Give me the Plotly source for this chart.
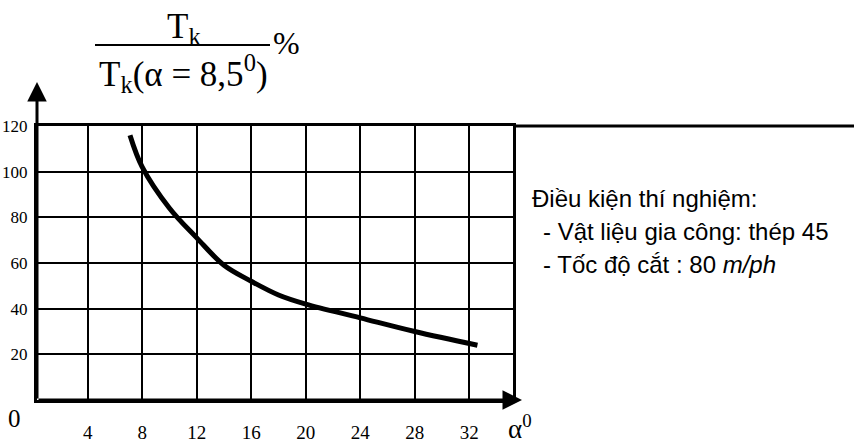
import plotly.graph_objects as go

# ---- data ----
alpha = [7.1, 8, 10, 12, 14, 16, 18, 20, 24, 28, 32.6]
tk_ratio = [116, 102, 84, 71, 59, 52, 46, 42, 36, 30, 24]
x_ticks = [4, 8, 12, 16, 20, 24, 28, 32]
y_ticks = [20, 40, 60, 80, 100, 120]
notes = ["Điều kiện thí nghiệm:",
         "- Vật liệu gia công: thép 45",
         "- Tốc độ cắt : 80 <i>m/ph</i>"]

# ---- layout geometry (pixels) ----
Wfig, Hfig = 854, 443
L, R, T, B = 37, 513, 126, 400
PW, PH = R - L, B - T


def px(x):
    return (x - L) / PW


def py(y):
    return (B - y) / PH


SERIF = "Liberation Serif, Times New Roman, serif"
SANS = "Liberation Sans, Arial, sans-serif"

fig = go.Figure()
fig.add_trace(go.Scatter(
    x=alpha, y=tk_ratio, mode="lines",
    line=dict(color="black", width=5, shape="spline", smoothing=1.0),
    hoverinfo="skip", showlegend=False,
))

axis_common = dict(
    showline=True, mirror=True, linecolor="black", linewidth=3,
    showgrid=True, gridcolor="black", gridwidth=2, zeroline=False,
    ticks="", automargin=False,
)

fig.update_xaxes(range=[0.275, 35.21], tickvals=x_ticks,
                 ticktext=[str(v) for v in x_ticks],
                 tickfont=dict(family=SERIF, size=19, color="black"),
                 ticklabelstandoff=13, **axis_common)
fig.update_yaxes(range=[0, 120], tickvals=y_ticks,
                 ticktext=[str(v) for v in y_ticks],
                 tickfont=dict(family=SERIF, size=17, color="black"),
                 ticklabelstandoff=3, **axis_common)


def label(x, y, text, size, family=SERIF, xanchor="center"):
    return dict(x=px(x), y=py(y), xref="paper", yref="paper", text=text,
                xanchor=xanchor, yanchor="middle", showarrow=False,
                font=dict(family=family, size=size, color="black"))


annotations = [
    # axis arrows
    dict(x=px(37), y=py(82), xref="paper", yref="paper", text="",
         showarrow=True, ax=0, ay=318, arrowhead=2, arrowsize=1.3,
         arrowwidth=3, arrowcolor="black"),
    dict(x=px(522), y=py(400), xref="paper", yref="paper", text="",
         showarrow=True, ax=-485, ay=0, arrowhead=2, arrowsize=1.3,
         arrowwidth=3, arrowcolor="black"),
    # origin and alpha
    label(14, 418, "0", 25),
    label(520, 427, "α<sup>0</sup>", 27),
    # y-axis title (fraction)
    label(184, 28, "T<sub>k</sub>", 35),
    label(183, 73, "T<sub>k</sub>(α = 8,5<sup>0</sup>)", 35),
    label(286, 43, "%", 32),
]

note_pos = [(530, 198), (541, 231), (541, 264)]
for txt, (nx, ny) in zip(notes, note_pos):
    annotations.append(label(nx, ny, txt, 24, family=SANS, xanchor="left"))

shapes = [
    # fraction bar
    dict(type="line", xref="paper", yref="paper",
         x0=px(95), x1=px(270), y0=py(45), y1=py(45),
         line=dict(color="black", width=2)),
    # top border extension
    dict(type="line", xref="paper", yref="paper",
         x0=1, x1=px(854), y0=1, y1=1,
         line=dict(color="black", width=3)),
]

fig.update_layout(
    width=Wfig, height=Hfig,
    margin=dict(l=L, r=Wfig - R, t=T, b=Hfig - B, autoexpand=False),
    paper_bgcolor="white", plot_bgcolor="white",
    annotations=annotations, shapes=shapes, showlegend=False,
)

fig.write_html("out.html")
